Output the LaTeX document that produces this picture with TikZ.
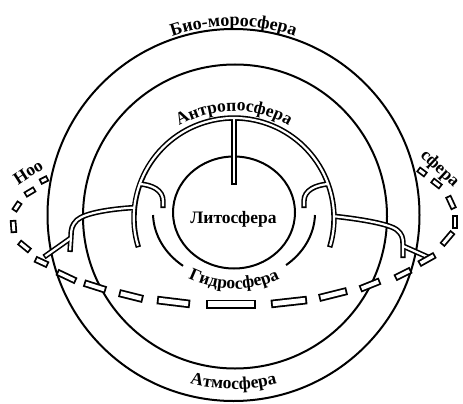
\documentclass[tikz,border=0pt]{standalone}
\usepackage{fontspec}
\setmainfont{Liberation Serif}
\usetikzlibrary{decorations.text}
\newcommand\lblfont{\bfseries\fontsize{17.5}{20}\selectfont}
\newcommand\bigfont{\bfseries\fontsize{18}{20}\selectfont}
\tikzset{
  ring/.style={line width=2pt},
  tubeout/.style={line width=5.4pt},
  tubein/.style={line width=2.2pt, white},
  lbl/.style={font=\lblfont},
  curvedlbl/.style={decorate, decoration={text along path, text format delimiters={|}{|}, text={|\lblfont|#1}, text align=center}},
  curvedbig/.style={decorate, decoration={text along path, text format delimiters={|}{|}, text={|\bigfont|#1}, text align=center}},
}
\begin{document}
\begin{tikzpicture}[x=1pt,y=-1pt]
\useasboundingbox (0,0) rectangle (463,404);
\fill[white] (0,0) rectangle (463,404);
% spheres
\draw[ring] (233.5,215) circle[radius=186];
\draw[ring] (235,216.5) circle[radius=152];
\draw[ring] (234,212.5) ellipse[x radius=61, y radius=56];
% hydrosphere (broken)
\draw[ring] (153.04,215.02) arc[start angle=178.3, end angle=129, x radius=81, y radius=68];
\draw[ring] (286.07,265.09) arc[start angle=50, end angle=1.7, x radius=81, y radius=68];
% anthroposphere tubes
\foreach \st/\sh in {tubeout/0,tubein/1.6}{
 \draw[\st, shorten <=\sh pt, shorten >=\sh pt] (234,218) ++(163:100) arc[start angle=163,end angle=377,radius=100];
 \draw[\st, shorten >=\sh pt] (234,118) -- (234,185);
 \draw[\st, shorten >=\sh pt] (139.96,184) .. controls (152,185) and (163,190) .. (163,201) -- (163,208);
 \draw[\st, shorten >=\sh pt] (328.04,184) .. controls (316,185) and (304,190) .. (304,201) -- (304,208);
 \draw[\st, shorten >=\sh pt] (134.55,207.55) .. controls (110,209) and (85,213) .. (77,220) .. controls (72,225) and (71,229) .. (71,236) -- (70,252);
 \draw[\st, shorten >=\sh pt] (70.9,238) -- (44,257);
 \draw[\st, shorten >=\sh pt] (333.98,216.25) .. controls (360,219) and (390,224) .. (397,230) .. controls (402,234) and (403,238) .. (403,244) -- (403,258);
 \draw[\st, shorten >=\sh pt] (403,246) -- (430,258);
}
% noosphere dashes
\foreach \xa/\ya/\xb/\yb/\w in {
 40/182/48/178/6.5, 25/195/35/189/6.5, 14/211/20/202/6.5, 13/220/14/233/6.5,
 19/242/30/251/6.5, 35/259/48/265/7, 57/272/76/281/7, 84/283/106/290/7.5,
 119/293/143/299/8, 157/300/190/304/8.5, 206/304/256/304/9, 271/304/307/300/8.5,
 319/298/347/291/8, 360/289/380/281/7.5, 395/278/411/270/7, 419/264/435/255/7,
 442/245/453/232/6.5, 455/229/455/215/6.5, 454/209/448/196/6.5, 441/187/432/180/6.5,
 426/175/418/169/6.5}{
 \draw[line width=\w pt] (\xa,\ya) -- (\xb,\yb);
 \draw[white, line width={\w pt-3.6pt}, shorten <=1.8pt, shorten >=1.8pt] (\xa,\ya) -- (\xb,\yb);
}
% labels
\path[curvedbig=Био-моросфера] (233.5,215) ++(235:189) arc[start angle=235,end angle=305,radius=189];
\path[curvedlbl=Антропосфера] (234,218) ++(225:107) arc[start angle=225,end angle=315,radius=107];
\path[curvedlbl=Атмосфера] (233.5,215) ++(120:174) arc[start angle=120,end angle=60,radius=174];
\path[curvedlbl=Гидросфера] (160.28,256.59) arc[start angle=145,end angle=35,x radius=90,y radius=76];
\node[lbl] (lito) at (233.5,219) {Литосфера};
\node[lbl, rotate=33] (noo) at (28,172) {Ноо};
\node[lbl, rotate=-43, inner sep=0pt] (sfera) at (439.5,169) {сфера};
\end{tikzpicture}
\end{document}
